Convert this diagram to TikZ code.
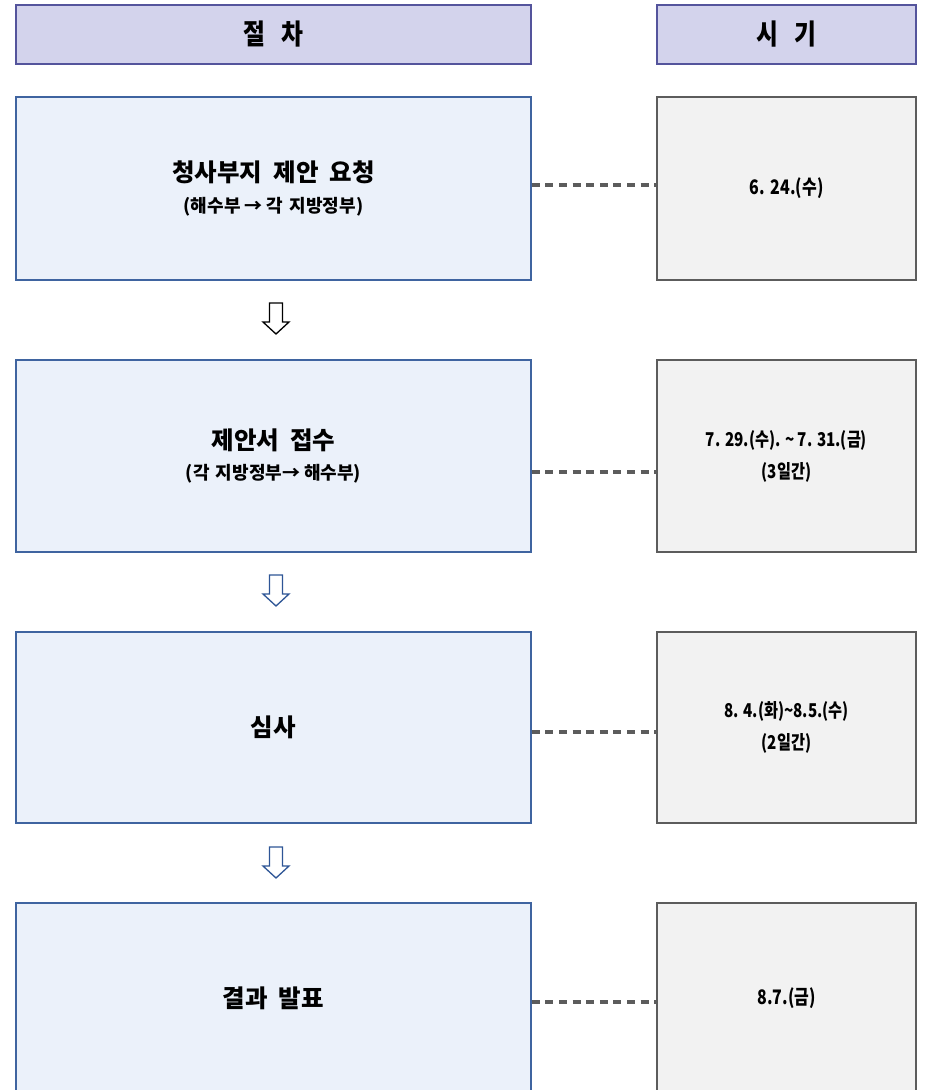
\documentclass[tikz,border=0pt]{standalone}
\usepackage{fontspec}
\setmainfont{Noto Sans CJK KR}
\newfontfamily\krc{Noto Sans CJK KR}[FakeStretch=0.8]
\newfontfamily\krh{Noto Sans CJK KR}[FakeStretch=0.85]
\definecolor{hdrfill}{HTML}{D3D3EC}
\definecolor{hdrline}{HTML}{54549C}
\definecolor{stepfill}{HTML}{EBF1FA}
\definecolor{stepline}{HTML}{3F64A0}
\definecolor{datefill}{HTML}{F2F2F2}
\definecolor{dateline}{HTML}{5C5C5C}
\definecolor{arrowblue}{HTML}{2E5596}
\tikzset{
  hollowdown/.pic={\draw[line width=1.3pt, fill=white, line join=miter]
    (-6.5,0) -- (6.5,0) -- (6.5,19) -- (13,19) -- (0,31) -- (-13,19) -- (-6.5,19) -- cycle;}
}
\begin{document}
\begin{tikzpicture}[x=1pt,y=-1pt,
  hdr/.style={draw=hdrline, fill=hdrfill, line width=1.6pt, inner sep=0,
    minimum height=59pt, font=\krh\bfseries\fontsize{28}{32}\selectfont},
  stepbox/.style={draw=stepline, fill=stepfill, line width=1.6pt, inner sep=0,
    minimum width=515pt, align=center, font=\bfseries},
  datebox/.style={draw=dateline, fill=datefill, line width=2pt, inner sep=0,
    minimum width=259pt, align=center, font=\krc\bfseries\fontsize{19}{21}\selectfont},
  dotline/.style={draw=dateline, line width=3.5pt, dash pattern=on 8pt off 5.6pt},
]
\clip (0,0) rectangle (929,1090);
\fill[white] (0,0) rectangle (929,1090);

% headers
\node[hdr, minimum width=515pt] (h1) at (273.5,34.5) {절\hspace{0.55em}차};
\node[hdr, minimum width=259pt] (h2) at (786.5,34.5) {시\hspace{0.55em}기};

% step boxes
\node[stepbox, minimum height=183pt] (b1) at (273.5,188.5)
  {\fontsize{24.5}{28}\selectfont 청사부지\hspace{0.45em}제안\hspace{0.45em}요청\\[12pt]
   \fontsize{18}{20}\selectfont (해수부 → 각\hspace{0.35em}지방정부)};
\node[stepbox, minimum height=192pt] (b2) at (273.5,456)
  {\fontsize{24.5}{28}\selectfont 제안서\hspace{0.45em}접수\\[12pt]
   \fontsize{18}{20}\selectfont (각\hspace{0.35em}지방정부→ 해수부)};
\node[stepbox, minimum height=191pt] (b3) at (273.5,727.5)
  {\fontsize{24.5}{28}\selectfont 심사};
\node[stepbox, minimum height=190pt] (b4) at (273.5,998)
  {\fontsize{24.5}{28}\selectfont 결과\hspace{0.45em}발표};

% date boxes
\node[datebox, minimum height=183pt] (r1) at (786.5,188.5)
  {\fontsize{20}{22}\selectfont 6.\hspace{0.3em}24.(수)};
\node[datebox, minimum height=192pt] (r2) at (786.5,456)
  {7. 29.(수). \textasciitilde{} 7. 31.(금)\\[11pt](3일간)};
\node[datebox, minimum height=191pt] (r3) at (786.5,727.5)
  {8. 4.(화)\textasciitilde 8.5.(수)\\[11pt](2일간)};
\node[datebox, minimum height=190pt] (r4) at (786.5,998)
  {\fontsize{20}{22}\selectfont 8.7.(금)};

% dotted connectors
\draw[dotline] ([yshift=3.5pt]b1.east) -- ([yshift=3.5pt]r1.west);
\draw[dotline] ([yshift=-16pt]b2.east) -- ([yshift=-16pt]r2.west);
\draw[dotline] ([yshift=-4.5pt]b3.east) -- ([yshift=-4.5pt]r3.west);
\draw[dotline] ([yshift=-4pt]b4.east) -- ([yshift=-4pt]r4.west);

% down arrows
\coordinate (a1) at (276,303);
\coordinate (a2) at (276,575);
\coordinate (a3) at (276,847);
\pic[color=black] at (a1) {hollowdown};
\pic[color=arrowblue] at (a2) {hollowdown};
\pic[color=arrowblue] at (a3) {hollowdown};
\end{tikzpicture}
\end{document}
